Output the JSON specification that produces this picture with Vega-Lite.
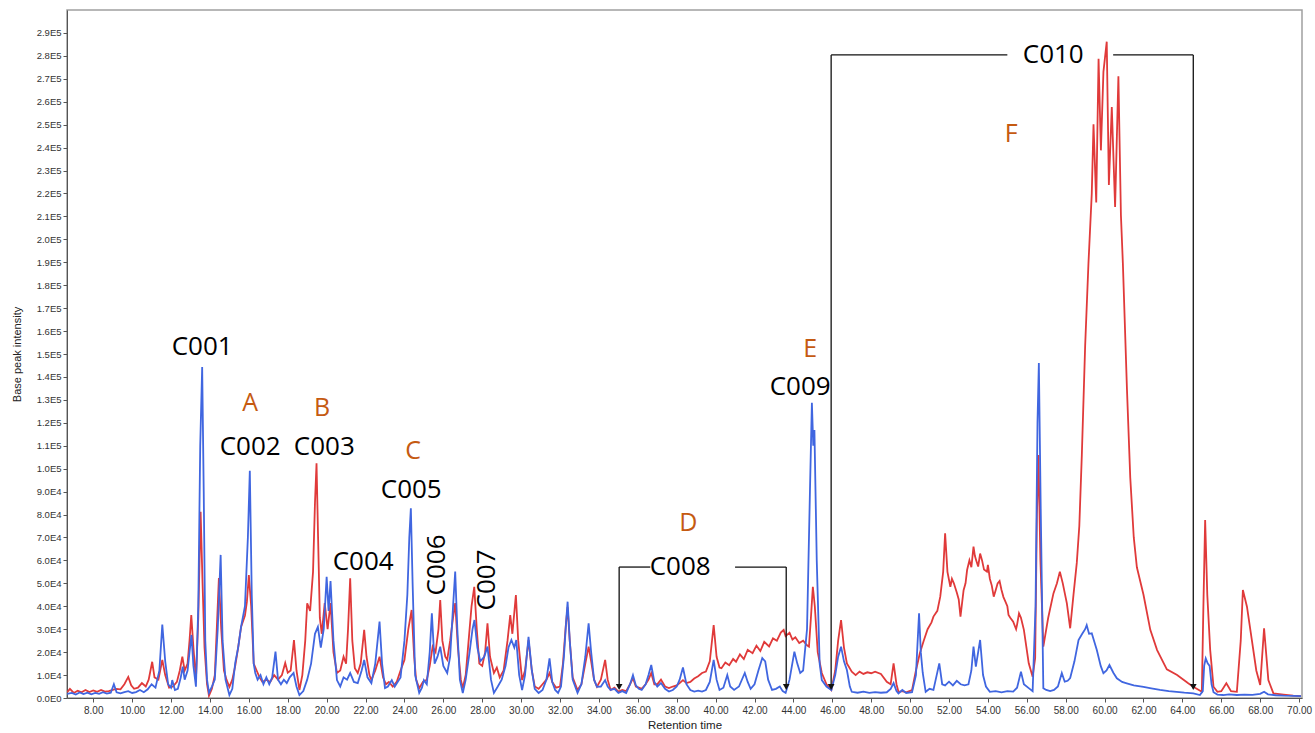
{
"$schema":"https://vega.github.io/schema/vega-lite/v6.json",
"width":1235,"height":688,
"autosize":{"type":"none"},
"padding":{"left":67,"top":10,"right":13,"bottom":35},
"background":"white",
"config":{"view":{"stroke":"#a0a0a0","strokeWidth":1.5},"axis":{"grid":false}},
"datasets":{
"red":[
{"t":6.66,"v":2500},{"t":6.8,"v":4000},{"t":7.0,"v":2200},{"t":7.2,"v":3200},{"t":7.4,"v":2500},{"t":7.6,"v":3500},{"t":7.8,"v":2600},{"t":8.0,"v":3300},{"t":8.2,"v":2700},{"t":8.4,"v":3500},{"t":8.6,"v":2800},{"t":8.8,"v":3000},{"t":9.0,"v":3500},{"t":9.2,"v":4000},{"t":9.4,"v":3800},{"t":9.6,"v":6000},{"t":9.8,"v":9200},{"t":9.95,"v":5500},{"t":10.1,"v":4000},{"t":10.3,"v":4500},{"t":10.5,"v":6500},{"t":10.7,"v":5000},{"t":10.85,"v":8000},{"t":11.03,"v":15800},{"t":11.15,"v":9000},{"t":11.35,"v":8000},{"t":11.55,"v":16600},{"t":11.7,"v":10000},{"t":11.9,"v":4500},{"t":12.1,"v":5000},{"t":12.3,"v":7000},{"t":12.45,"v":12000},{"t":12.58,"v":18000},{"t":12.7,"v":12000},{"t":12.85,"v":15000},{"t":12.95,"v":25000},{"t":13.04,"v":36200},{"t":13.15,"v":22000},{"t":13.28,"v":8000},{"t":13.4,"v":35000},{"t":13.52,"v":81200},{"t":13.62,"v":50000},{"t":13.72,"v":22000},{"t":13.85,"v":6000},{"t":13.95,"v":1000},{"t":14.1,"v":4000},{"t":14.25,"v":10000},{"t":14.35,"v":30000},{"t":14.46,"v":52300},{"t":14.58,"v":30000},{"t":14.72,"v":12000},{"t":14.85,"v":8000},{"t":15.0,"v":4900},{"t":15.15,"v":8000},{"t":15.3,"v":14000},{"t":15.45,"v":22000},{"t":15.6,"v":31000},{"t":15.8,"v":36000},{"t":15.9,"v":42000},{"t":16.0,"v":53600},{"t":16.12,"v":40000},{"t":16.25,"v":15000},{"t":16.4,"v":12000},{"t":16.55,"v":9000},{"t":16.7,"v":7000},{"t":16.9,"v":8000},{"t":17.1,"v":7000},{"t":17.3,"v":10000},{"t":17.5,"v":8000},{"t":17.7,"v":10000},{"t":17.87,"v":15300},{"t":18.0,"v":11000},{"t":18.15,"v":12000},{"t":18.32,"v":25300},{"t":18.45,"v":12000},{"t":18.6,"v":3500},{"t":18.75,"v":10000},{"t":18.9,"v":25000},{"t":19.0,"v":41300},{"t":19.15,"v":38000},{"t":19.3,"v":55000},{"t":19.4,"v":85000},{"t":19.48,"v":102400},{"t":19.56,"v":70000},{"t":19.65,"v":35000},{"t":19.75,"v":28000},{"t":19.9,"v":41400},{"t":20.05,"v":30000},{"t":20.2,"v":41400},{"t":20.35,"v":20000},{"t":20.53,"v":10900},{"t":20.7,"v":12000},{"t":20.87,"v":18000},{"t":21.0,"v":15000},{"t":21.1,"v":30000},{"t":21.21,"v":52200},{"t":21.32,"v":25000},{"t":21.45,"v":13000},{"t":21.6,"v":10900},{"t":21.75,"v":15000},{"t":21.93,"v":29700},{"t":22.05,"v":18000},{"t":22.2,"v":10000},{"t":22.3,"v":7800},{"t":22.5,"v":12000},{"t":22.72,"v":18000},{"t":22.9,"v":9000},{"t":23.05,"v":6000},{"t":23.2,"v":7000},{"t":23.4,"v":5000},{"t":23.6,"v":7000},{"t":23.8,"v":12000},{"t":24.0,"v":16600},{"t":24.2,"v":30000},{"t":24.37,"v":38400},{"t":24.5,"v":18000},{"t":24.6,"v":8000},{"t":24.76,"v":4300},{"t":24.95,"v":7000},{"t":25.15,"v":8000},{"t":25.3,"v":14000},{"t":25.45,"v":22400},{"t":25.6,"v":20000},{"t":25.75,"v":30000},{"t":25.84,"v":42700},{"t":25.95,"v":25000},{"t":26.1,"v":18000},{"t":26.2,"v":16700},{"t":26.35,"v":25000},{"t":26.5,"v":35000},{"t":26.61,"v":41400},{"t":26.75,"v":22000},{"t":26.9,"v":8000},{"t":27.0,"v":4300},{"t":27.15,"v":10000},{"t":27.3,"v":25000},{"t":27.45,"v":40000},{"t":27.59,"v":48500},{"t":27.72,"v":30000},{"t":27.85,"v":15000},{"t":28.0,"v":14000},{"t":28.15,"v":20000},{"t":28.27,"v":32600},{"t":28.4,"v":18000},{"t":28.6,"v":10900},{"t":28.75,"v":13300},{"t":28.9,"v":9000},{"t":29.1,"v":12000},{"t":29.3,"v":25000},{"t":29.44,"v":36200},{"t":29.55,"v":28000},{"t":29.73,"v":44900},{"t":29.85,"v":25000},{"t":30.05,"v":7800},{"t":30.2,"v":12000},{"t":30.38,"v":25300},{"t":30.55,"v":12000},{"t":30.7,"v":5000},{"t":30.9,"v":4000},{"t":31.1,"v":6000},{"t":31.3,"v":8000},{"t":31.46,"v":10900},{"t":31.6,"v":7000},{"t":31.8,"v":4500},{"t":32.0,"v":5000},{"t":32.15,"v":15000},{"t":32.3,"v":32000},{"t":32.39,"v":39600},{"t":32.5,"v":25000},{"t":32.65,"v":9000},{"t":32.9,"v":3500},{"t":33.1,"v":6000},{"t":33.3,"v":15000},{"t":33.47,"v":22400},{"t":33.6,"v":16000},{"t":33.75,"v":8000},{"t":33.9,"v":4900},{"t":34.1,"v":8000},{"t":34.32,"v":16600},{"t":34.45,"v":8000},{"t":34.6,"v":3500},{"t":34.8,"v":4500},{"t":35.0,"v":2800},{"t":35.2,"v":3500},{"t":35.4,"v":3000},{"t":35.6,"v":6000},{"t":35.75,"v":8700},{"t":35.9,"v":5000},{"t":36.05,"v":4500},{"t":36.2,"v":4000},{"t":36.4,"v":6000},{"t":36.55,"v":8000},{"t":36.69,"v":10900},{"t":36.85,"v":6000},{"t":37.0,"v":6000},{"t":37.19,"v":8000},{"t":37.4,"v":5000},{"t":37.6,"v":4300},{"t":37.8,"v":5000},{"t":38.0,"v":5500},{"t":38.15,"v":6500},{"t":38.32,"v":7800},{"t":38.5,"v":6500},{"t":38.7,"v":7000},{"t":38.9,"v":8500},{"t":39.1,"v":9500},{"t":39.3,"v":10900},{"t":39.5,"v":11500},{"t":39.7,"v":16000},{"t":39.9,"v":31800},{"t":40.05,"v":18000},{"t":40.2,"v":13300},{"t":40.3,"v":13000},{"t":40.5,"v":15500},{"t":40.7,"v":14300},{"t":40.9,"v":17000},{"t":41.05,"v":15800},{"t":41.25,"v":19000},{"t":41.45,"v":17000},{"t":41.65,"v":21000},{"t":41.9,"v":19500},{"t":42.1,"v":22800},{"t":42.3,"v":20500},{"t":42.5,"v":24500},{"t":42.75,"v":22500},{"t":42.95,"v":26000},{"t":43.15,"v":25000},{"t":43.35,"v":28500},{"t":43.5,"v":29700},{"t":43.6,"v":27000},{"t":43.8,"v":28500},{"t":43.95,"v":25500},{"t":44.1,"v":26500},{"t":44.3,"v":24000},{"t":44.5,"v":25000},{"t":44.7,"v":23000},{"t":44.8,"v":22400},{"t":44.9,"v":35000},{"t":45.0,"v":48500},{"t":45.1,"v":40000},{"t":45.25,"v":20000},{"t":45.46,"v":10900},{"t":45.7,"v":6000},{"t":45.95,"v":3500},{"t":46.15,"v":12000},{"t":46.3,"v":25000},{"t":46.45,"v":34000},{"t":46.6,"v":22000},{"t":46.75,"v":15100},{"t":47.0,"v":11500},{"t":47.2,"v":10000},{"t":47.4,"v":11500},{"t":47.6,"v":10500},{"t":47.8,"v":11200},{"t":48.0,"v":10800},{"t":48.2,"v":11500},{"t":48.5,"v":10500},{"t":48.8,"v":7100},{"t":49.0,"v":6000},{"t":49.15,"v":15100},{"t":49.3,"v":6000},{"t":49.4,"v":2700},{"t":49.6,"v":3000},{"t":49.8,"v":2500},{"t":50.1,"v":3500},{"t":50.3,"v":12000},{"t":50.5,"v":19500},{"t":50.7,"v":25000},{"t":50.9,"v":30000},{"t":51.1,"v":33000},{"t":51.2,"v":35500},{"t":51.4,"v":38000},{"t":51.55,"v":44200},{"t":51.7,"v":55000},{"t":51.8,"v":71800},{"t":51.92,"v":55000},{"t":52.07,"v":48500},{"t":52.15,"v":52000},{"t":52.25,"v":50000},{"t":52.4,"v":46000},{"t":52.5,"v":43000},{"t":52.59,"v":35500},{"t":52.75,"v":47000},{"t":52.85,"v":50000},{"t":52.93,"v":55800},{"t":53.05,"v":60000},{"t":53.15,"v":57000},{"t":53.26,"v":66000},{"t":53.33,"v":62000},{"t":53.4,"v":60000},{"t":53.5,"v":57300},{"t":53.6,"v":63000},{"t":53.7,"v":60000},{"t":53.8,"v":56000},{"t":53.95,"v":55100},{"t":54.0,"v":58000},{"t":54.1,"v":52000},{"t":54.2,"v":49000},{"t":54.3,"v":44200},{"t":54.4,"v":47000},{"t":54.5,"v":50000},{"t":54.6,"v":51000},{"t":54.7,"v":47100},{"t":54.8,"v":44000},{"t":54.9,"v":42000},{"t":55.0,"v":40000},{"t":55.06,"v":36200},{"t":55.15,"v":35000},{"t":55.3,"v":33300},{"t":55.45,"v":30000},{"t":55.5,"v":32000},{"t":55.6,"v":36900},{"t":55.7,"v":35000},{"t":55.85,"v":29700},{"t":56.1,"v":15100},{"t":56.3,"v":9300},{"t":56.43,"v":17400},{"t":56.52,"v":80000},{"t":56.6,"v":106000},{"t":56.7,"v":60000},{"t":56.85,"v":22400},{"t":57.1,"v":35000},{"t":57.37,"v":45600},{"t":57.55,"v":50000},{"t":57.7,"v":55100},{"t":57.85,"v":50000},{"t":58.06,"v":41300},{"t":58.23,"v":30400},{"t":58.4,"v":45000},{"t":58.57,"v":58900},{"t":58.7,"v":75000},{"t":58.83,"v":106100},{"t":59.0,"v":153500},{"t":59.17,"v":189500},{"t":59.34,"v":219900},{"t":59.43,"v":250200},{"t":59.57,"v":216100},{"t":59.69,"v":278700},{"t":59.81,"v":238800},{"t":59.94,"v":273000},{"t":60.11,"v":286200},{"t":60.22,"v":223700},{"t":60.37,"v":257700},{"t":60.54,"v":214100},{"t":60.71,"v":271100},{"t":60.84,"v":210400},{"t":60.94,"v":189500},{"t":61.15,"v":134600},{"t":61.32,"v":96000},{"t":61.5,"v":70000},{"t":61.66,"v":57000},{"t":62.0,"v":45000},{"t":62.35,"v":29700},{"t":62.7,"v":20900},{"t":63.2,"v":12500},{"t":63.73,"v":10000},{"t":64.3,"v":6400},{"t":64.56,"v":4900},{"t":65.0,"v":2700},{"t":65.08,"v":40000},{"t":65.17,"v":77600},{"t":65.28,"v":45000},{"t":65.43,"v":20900},{"t":65.6,"v":4900},{"t":65.8,"v":2700},{"t":66.0,"v":3000},{"t":66.26,"v":6400},{"t":66.5,"v":3000},{"t":66.8,"v":2700},{"t":67.0,"v":25000},{"t":67.11,"v":47100},{"t":67.32,"v":39800},{"t":67.57,"v":25300},{"t":67.8,"v":12000},{"t":68.0,"v":5700},{"t":68.2,"v":30400},{"t":68.42,"v":7800},{"t":68.68,"v":2000},{"t":69.2,"v":1500},{"t":69.7,"v":1000},{"t":70.1,"v":800}
],
"blue":[
{"t":6.66,"v":1800},{"t":6.9,"v":2200},{"t":7.1,"v":1500},{"t":7.3,"v":2400},{"t":7.5,"v":1700},{"t":7.7,"v":2300},{"t":7.9,"v":1600},{"t":8.1,"v":2200},{"t":8.3,"v":1800},{"t":8.5,"v":2500},{"t":8.7,"v":1900},{"t":8.9,"v":2300},{"t":9.06,"v":6000},{"t":9.2,"v":2500},{"t":9.4,"v":2000},{"t":9.6,"v":2600},{"t":9.8,"v":3000},{"t":10.0,"v":2200},{"t":10.2,"v":2600},{"t":10.4,"v":3500},{"t":10.6,"v":2500},{"t":10.8,"v":3800},{"t":11.0,"v":6000},{"t":11.2,"v":4500},{"t":11.4,"v":12000},{"t":11.55,"v":32000},{"t":11.7,"v":16000},{"t":11.85,"v":6000},{"t":12.0,"v":4500},{"t":12.06,"v":7800},{"t":12.2,"v":3500},{"t":12.35,"v":4000},{"t":12.5,"v":9000},{"t":12.6,"v":13700},{"t":12.7,"v":8000},{"t":12.85,"v":12000},{"t":12.95,"v":20000},{"t":13.05,"v":27500},{"t":13.15,"v":14000},{"t":13.28,"v":4900},{"t":13.4,"v":40000},{"t":13.5,"v":110000},{"t":13.6,"v":144300},{"t":13.68,"v":90000},{"t":13.76,"v":25000},{"t":13.85,"v":8000},{"t":13.95,"v":2300},{"t":14.1,"v":5000},{"t":14.25,"v":8000},{"t":14.4,"v":30000},{"t":14.55,"v":62400},{"t":14.65,"v":25000},{"t":14.8,"v":8000},{"t":15.0,"v":1300},{"t":15.15,"v":4000},{"t":15.3,"v":15300},{"t":15.45,"v":22000},{"t":15.6,"v":31000},{"t":15.8,"v":40000},{"t":15.95,"v":70000},{"t":16.05,"v":99100},{"t":16.15,"v":45000},{"t":16.25,"v":15000},{"t":16.33,"v":10900},{"t":16.45,"v":8000},{"t":16.6,"v":10000},{"t":16.75,"v":6000},{"t":16.9,"v":9000},{"t":17.05,"v":6000},{"t":17.2,"v":9000},{"t":17.37,"v":20200},{"t":17.5,"v":8000},{"t":17.65,"v":6000},{"t":17.8,"v":8000},{"t":17.95,"v":6500},{"t":18.1,"v":9000},{"t":18.3,"v":10900},{"t":18.45,"v":5000},{"t":18.6,"v":1300},{"t":18.8,"v":3000},{"t":19.0,"v":8000},{"t":19.2,"v":15000},{"t":19.4,"v":28000},{"t":19.55,"v":31000},{"t":19.7,"v":22000},{"t":19.85,"v":30000},{"t":20.0,"v":52900},{"t":20.1,"v":38000},{"t":20.2,"v":51000},{"t":20.35,"v":25000},{"t":20.53,"v":7800},{"t":20.7,"v":5000},{"t":20.87,"v":9000},{"t":21.05,"v":8000},{"t":21.21,"v":10900},{"t":21.4,"v":7000},{"t":21.6,"v":6500},{"t":21.8,"v":12000},{"t":21.93,"v":16600},{"t":22.1,"v":9000},{"t":22.3,"v":6500},{"t":22.5,"v":15000},{"t":22.72,"v":33300},{"t":22.85,"v":15000},{"t":23.0,"v":4300},{"t":23.15,"v":5000},{"t":23.35,"v":7800},{"t":23.5,"v":5000},{"t":23.65,"v":7000},{"t":23.8,"v":9000},{"t":24.0,"v":25000},{"t":24.15,"v":45000},{"t":24.25,"v":70000},{"t":24.33,"v":82700},{"t":24.42,"v":50000},{"t":24.55,"v":10000},{"t":24.76,"v":2200},{"t":24.9,"v":4500},{"t":25.0,"v":7800},{"t":25.15,"v":6000},{"t":25.3,"v":20000},{"t":25.41,"v":36900},{"t":25.55,"v":15000},{"t":25.7,"v":18000},{"t":25.84,"v":22400},{"t":26.0,"v":14000},{"t":26.2,"v":10900},{"t":26.35,"v":18000},{"t":26.5,"v":40000},{"t":26.61,"v":55100},{"t":26.72,"v":30000},{"t":26.85,"v":8000},{"t":27.0,"v":2200},{"t":27.15,"v":8000},{"t":27.35,"v":20000},{"t":27.5,"v":30000},{"t":27.6,"v":34000},{"t":27.75,"v":22000},{"t":27.9,"v":16000},{"t":28.1,"v":18000},{"t":28.27,"v":22400},{"t":28.45,"v":8000},{"t":28.6,"v":2200},{"t":28.8,"v":5000},{"t":29.0,"v":8000},{"t":29.2,"v":14000},{"t":29.35,"v":22000},{"t":29.5,"v":25300},{"t":29.65,"v":22000},{"t":29.75,"v":25300},{"t":29.9,"v":10000},{"t":30.05,"v":3500},{"t":30.2,"v":10000},{"t":30.38,"v":26700},{"t":30.55,"v":12000},{"t":30.7,"v":4000},{"t":30.9,"v":2200},{"t":31.1,"v":3500},{"t":31.3,"v":8000},{"t":31.46,"v":17300},{"t":31.6,"v":7000},{"t":31.75,"v":3500},{"t":31.9,"v":2200},{"t":32.05,"v":5000},{"t":32.2,"v":18000},{"t":32.32,"v":34000},{"t":32.39,"v":42000},{"t":32.5,"v":25000},{"t":32.65,"v":8000},{"t":32.9,"v":2200},{"t":33.1,"v":6000},{"t":33.3,"v":18000},{"t":33.47,"v":32600},{"t":33.6,"v":20000},{"t":33.75,"v":8000},{"t":33.9,"v":4900},{"t":34.1,"v":5000},{"t":34.32,"v":7800},{"t":34.45,"v":5000},{"t":34.6,"v":3500},{"t":34.8,"v":4000},{"t":35.0,"v":2200},{"t":35.2,"v":3000},{"t":35.4,"v":2200},{"t":35.6,"v":6000},{"t":35.75,"v":10000},{"t":35.9,"v":5500},{"t":36.05,"v":4000},{"t":36.2,"v":3500},{"t":36.4,"v":6000},{"t":36.55,"v":10000},{"t":36.69,"v":14400},{"t":36.85,"v":7000},{"t":37.0,"v":5000},{"t":37.19,"v":6500},{"t":37.4,"v":4000},{"t":37.6,"v":2800},{"t":37.8,"v":3500},{"t":38.0,"v":5000},{"t":38.15,"v":8000},{"t":38.32,"v":13300},{"t":38.5,"v":6000},{"t":38.7,"v":3500},{"t":38.9,"v":2800},{"t":39.1,"v":3200},{"t":39.3,"v":2800},{"t":39.5,"v":3500},{"t":39.7,"v":7000},{"t":39.9,"v":16600},{"t":40.05,"v":8000},{"t":40.2,"v":3500},{"t":40.4,"v":4500},{"t":40.6,"v":10000},{"t":40.75,"v":5000},{"t":40.95,"v":3500},{"t":41.2,"v":5000},{"t":41.5,"v":10900},{"t":41.65,"v":7000},{"t":41.8,"v":4000},{"t":42.0,"v":6000},{"t":42.2,"v":12000},{"t":42.4,"v":17400},{"t":42.55,"v":16000},{"t":42.7,"v":8000},{"t":42.9,"v":3500},{"t":43.1,"v":4000},{"t":43.3,"v":5000},{"t":43.45,"v":3000},{"t":43.6,"v":2200},{"t":43.8,"v":8000},{"t":44.05,"v":20200},{"t":44.2,"v":15000},{"t":44.35,"v":10900},{"t":44.5,"v":12000},{"t":44.7,"v":30000},{"t":44.85,"v":90000},{"t":44.95,"v":128700},{"t":45.02,"v":110000},{"t":45.08,"v":116900},{"t":45.2,"v":60000},{"t":45.35,"v":15000},{"t":45.46,"v":7800},{"t":45.7,"v":5000},{"t":45.95,"v":3500},{"t":46.15,"v":10000},{"t":46.3,"v":18000},{"t":46.45,"v":22400},{"t":46.6,"v":16000},{"t":46.75,"v":12200},{"t":46.9,"v":5000},{"t":47.0,"v":2700},{"t":47.3,"v":2300},{"t":47.6,"v":2800},{"t":47.9,"v":2200},{"t":48.2,"v":2600},{"t":48.5,"v":2300},{"t":48.8,"v":2500},{"t":49.0,"v":4000},{"t":49.15,"v":6500},{"t":49.3,"v":3000},{"t":49.4,"v":2000},{"t":49.6,"v":3500},{"t":49.8,"v":2200},{"t":50.1,"v":2500},{"t":50.3,"v":10000},{"t":50.46,"v":36900},{"t":50.55,"v":20000},{"t":50.65,"v":10900},{"t":50.8,"v":2700},{"t":51.0,"v":4000},{"t":51.2,"v":3500},{"t":51.5,"v":15100},{"t":51.65,"v":6000},{"t":51.8,"v":5500},{"t":52.0,"v":7100},{"t":52.2,"v":5500},{"t":52.4,"v":7500},{"t":52.6,"v":6000},{"t":52.8,"v":5500},{"t":53.0,"v":6000},{"t":53.15,"v":12000},{"t":53.26,"v":22400},{"t":53.38,"v":13700},{"t":53.6,"v":25300},{"t":53.75,"v":10000},{"t":53.9,"v":5000},{"t":54.1,"v":2700},{"t":54.4,"v":3000},{"t":54.7,"v":2500},{"t":55.0,"v":3000},{"t":55.3,"v":2800},{"t":55.5,"v":4500},{"t":55.7,"v":11500},{"t":55.85,"v":6000},{"t":56.1,"v":4300},{"t":56.3,"v":3000},{"t":56.45,"v":40000},{"t":56.55,"v":120000},{"t":56.62,"v":146100},{"t":56.72,"v":80000},{"t":56.85,"v":4300},{"t":57.0,"v":3500},{"t":57.2,"v":3000},{"t":57.4,"v":3500},{"t":57.6,"v":5000},{"t":57.8,"v":10900},{"t":57.95,"v":7100},{"t":58.1,"v":7500},{"t":58.23,"v":8700},{"t":58.45,"v":16000},{"t":58.66,"v":25300},{"t":58.85,"v":28000},{"t":59.0,"v":30000},{"t":59.08,"v":31800},{"t":59.2,"v":28000},{"t":59.34,"v":28200},{"t":59.6,"v":20900},{"t":59.8,"v":14000},{"t":59.94,"v":10800},{"t":60.1,"v":12000},{"t":60.25,"v":14400},{"t":60.45,"v":11000},{"t":60.63,"v":8600},{"t":60.9,"v":7000},{"t":61.14,"v":6400},{"t":61.5,"v":5500},{"t":62.0,"v":4900},{"t":62.4,"v":4200},{"t":62.85,"v":3500},{"t":63.3,"v":3000},{"t":63.7,"v":2700},{"t":64.1,"v":2300},{"t":64.56,"v":2000},{"t":64.9,"v":1300},{"t":65.05,"v":3000},{"t":65.12,"v":14000},{"t":65.2,"v":17300},{"t":65.3,"v":15100},{"t":65.4,"v":14000},{"t":65.5,"v":6000},{"t":65.6,"v":2500},{"t":65.8,"v":1500},{"t":66.1,"v":1300},{"t":66.4,"v":1600},{"t":66.8,"v":1300},{"t":67.2,"v":1500},{"t":67.6,"v":1400},{"t":68.0,"v":1800},{"t":68.2,"v":2700},{"t":68.4,"v":1600},{"t":68.8,"v":1200},{"t":69.2,"v":1000},{"t":69.7,"v":900},{"t":70.1,"v":800}
],
"compounds":[
{"t":13.6,"v":153000,"label":"C001"},{"t":16.07,"v":109500,"label":"C002"},{"t":19.88,"v":109500,"label":"C003"},{"t":21.88,"v":59300,"label":"C004"},{"t":24.35,"v":90700,"label":"C005"},{"t":38.18,"v":57100,"label":"C008"},{"t":44.35,"v":135600,"label":"C009"},{"t":57.36,"v":280400,"label":"C010"}
],
"rotated":[
{"t":25.69,"v":58000,"label":"C006"},{"t":28.26,"v":51500,"label":"C007"}
],
"groups":[
{"t":16.07,"v":128700,"label":"A"},{"t":19.77,"v":126500,"label":"B"},{"t":24.45,"v":107700,"label":"C"},{"t":38.59,"v":76300,"label":"D"},{"t":44.86,"v":152200,"label":"E"},{"t":55.2,"v":246000,"label":"F"}
],
"brackets":[
{"t":35.04,"v":57100,"t2":36.64,"v2":57100},{"t":41.0,"v":57100,"t2":43.63,"v2":57100},{"t":35.04,"v":57100,"t2":35.04,"v2":5500},{"t":43.63,"v":57100,"t2":43.63,"v2":5500},
{"t":45.94,"v":280400,"t2":55.0,"v2":280400},{"t":60.44,"v":280400,"t2":64.56,"v2":280400},{"t":45.94,"v":280400,"t2":45.94,"v2":5500},{"t":64.56,"v":280400,"t2":64.56,"v2":5500}
],
"arrows":[
{"t":35.04,"v":4800},{"t":43.63,"v":4800},{"t":45.94,"v":4800},{"t":64.56,"v":4800}
]
},
"encoding":{
"x":{"field":"t","type":"quantitative","scale":{"domain":[6.65,70.15],"nice":false,"zero":false},
"axis":{"title":"Retention time","values":[8,10,12,14,16,18,20,22,24,26,28,30,32,34,36,38,40,42,44,46,48,50,52,54,56,58,60,62,64,66,68,70],"format":".2f","labelFont":"Liberation Sans","labelFontSize":10,"labelColor":"#333","titleFont":"Liberation Sans","titleFontSize":11.5,"titleFontWeight":"normal","titleColor":"#222","tickSize":4,"tickColor":"#555","domainColor":"#555","labelPadding":3,"titlePadding":4}},
"y":{"field":"v","type":"quantitative","scale":{"domain":[0,300000],"nice":false},
"axis":{"title":"Base peak intensity","values":[0,10000,20000,30000,40000,50000,60000,70000,80000,90000,100000,110000,120000,130000,140000,150000,160000,170000,180000,190000,200000,210000,220000,230000,240000,250000,260000,270000,280000,290000],"labelExpr":"datum.value == 0 ? '0.0E0' : format(datum.value / pow(10, floor(log(datum.value)/LN10 + 1e-9)), '.1f') + 'E' + floor(log(datum.value)/LN10 + 1e-9)","labelFont":"Liberation Sans","labelFontSize":9.5,"labelColor":"#333","titleFont":"Liberation Sans","titleFontSize":11,"titleFontWeight":"normal","titleColor":"#222","tickSize":4,"tickColor":"#555","domainColor":"#555","labelPadding":2,"titlePadding":14}}
},
"layer":[
{"data":{"name":"red"},"mark":{"type":"line","color":"#e03a3a","strokeWidth":1.8,"clip":true}},
{"data":{"name":"blue"},"mark":{"type":"line","color":"#4066e0","strokeWidth":1.8,"clip":true}},
{"data":{"name":"brackets"},"mark":{"type":"rule","color":"#111","strokeWidth":1.3},"encoding":{"x2":{"field":"t2"},"y2":{"field":"v2"}}},
{"data":{"name":"arrows"},"mark":{"type":"point","shape":"triangle-down","filled":true,"color":"#111","size":45,"opacity":1}},
{"data":{"name":"compounds"},"mark":{"type":"text","font":"Open Sans","fontSize":26,"color":"#000","baseline":"middle","align":"center"},"encoding":{"text":{"field":"label"}}},
{"data":{"name":"rotated"},"mark":{"type":"text","font":"Open Sans","fontSize":26,"color":"#000","baseline":"middle","align":"center","angle":270},"encoding":{"text":{"field":"label"}}},
{"data":{"name":"groups"},"mark":{"type":"text","font":"Open Sans","fontSize":25,"color":"#c55a11","baseline":"middle","align":"center"},"encoding":{"text":{"field":"label"}}}
]
}
